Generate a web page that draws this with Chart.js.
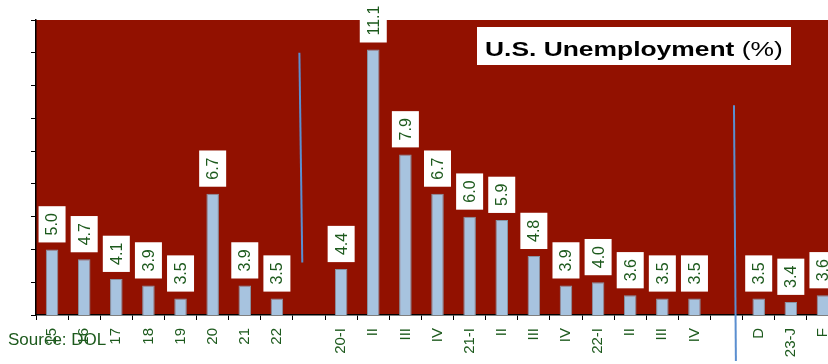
<!DOCTYPE html>
<html>
<head>
<meta charset="utf-8">
<script src="https://cdn.jsdelivr.net/npm/chart.js@4/dist/chart.umd.min.js"></script>
<style>
  html, body { margin: 0; padding: 0; background: #ffffff; overflow: hidden; }
  #wrap { width: 828px; height: 364px; overflow: hidden; }
</style>
</head>
<body>
<div id="wrap"><canvas id="unempChart" width="840" height="364"></canvas></div>
<script>
// categories (blank ones are the gaps between the yearly / quarterly / monthly blocks)
var categories = ['15', '16', '17', '18', '19', '20', '21', '22', '',
    '20-I', 'II', 'III', 'IV', '21-I', 'II', 'III', 'IV', '22-I', 'II', 'III', 'IV', '',
    'D', '23-J', 'F'];
var rates = [5.0, 4.7, 4.1, 3.9, 3.5, 6.7, 3.9, 3.5, null,
    4.4, 11.1, 7.9, 6.7, 6.0, 5.9, 4.8, 3.9, 4.0, 3.6, 3.5, 3.5, null,
    3.5, 3.4, 3.6];
// divider lines, in category index / percent units: [x top, y top, x bottom, y bottom]
var dividers = [
    [7.70, 11.0, 7.79, 4.6],
    [21.23, 9.4, 21.29, 1.6]
];

const GREEN = '#1d5a1d';
const FONT = "'Liberation Sans', Arial, sans-serif";

const backgroundPlugin = {
    id: 'plotBackground',
    beforeDraw(chart) {
        const { ctx, chartArea } = chart;
        ctx.save();
        ctx.fillStyle = '#921100';
        ctx.fillRect(chartArea.left, chartArea.top, chartArea.right - chartArea.left, chartArea.bottom - chartArea.top);
        ctx.restore();
    }
};

const extrasPlugin = {
    id: 'extras',
    afterDatasetsDraw(chart) {
        const ctx = chart.ctx;
        const xs = chart.scales.x, ys = chart.scales.y;

        // value boxes above bars
        const meta = chart.getDatasetMeta(0);
        ctx.save();
        ctx.font = '16px ' + FONT;
        meta.data.forEach((bar, i) => {
            const v = rates[i];
            if (v === null) return;
            const txt = v.toFixed(1);
            const tw = ctx.measureText(txt).width;
            const h = tw + 14;
            const w = 27;
            const bottom = bar.y - 7;
            ctx.fillStyle = '#ffffff';
            ctx.fillRect(bar.x - w / 2, bottom - h, w, h);
            ctx.save();
            ctx.translate(bar.x, bottom - h / 2);
            ctx.rotate(-Math.PI / 2);
            ctx.fillStyle = GREEN;
            ctx.textAlign = 'center';
            ctx.textBaseline = 'middle';
            ctx.fillText(txt, 0, 1);
            ctx.restore();
        });
        ctx.restore();

        // blue divider lines
        ctx.save();
        ctx.strokeStyle = '#5b8fd0';
        ctx.lineWidth = 2;
        dividers.forEach(d => {
            ctx.beginPath();
            ctx.moveTo(xs.getPixelForValue(d[0]), ys.getPixelForValue(d[1]));
            ctx.lineTo(xs.getPixelForValue(d[2]), ys.getPixelForValue(d[3]));
            ctx.stroke();
        });
        ctx.restore();

        // title box
        ctx.save();
        ctx.fillStyle = '#ffffff';
        ctx.fillRect(477, 27, 314, 38);
        ctx.translate(485, 56);
        ctx.scale(1.32, 1);
        ctx.fillStyle = '#000000';
        ctx.textBaseline = 'alphabetic';
        ctx.font = 'bold 20px ' + FONT;
        const part1 = 'U.S. Unemployment';
        ctx.fillText(part1, 0, 0);
        const w1 = ctx.measureText(part1).width;
        ctx.font = '20px ' + FONT;
        ctx.fillText(' (%)', w1, 0);
        ctx.restore();

        // source note
        ctx.save();
        ctx.fillStyle = GREEN;
        ctx.font = '17px ' + FONT;
        ctx.textBaseline = 'middle';
        ctx.fillText('Source: DOL', 8, 340);
        ctx.restore();
    }
};

new Chart('unempChart', {
    type: 'bar',
    data: {
        labels: categories,
        datasets: [{
            data: rates,
            backgroundColor: '#a7c3df',
            borderColor: '#8894a3',
            borderWidth: 1,
            barPercentage: 0.39,
            categoryPercentage: 1.0
        }]
    },
    options: {
        responsive: false,
        animation: false,
        devicePixelRatio: 1,
        layout: { padding: { top: 20, left: 0, right: 1, bottom: 0 } },
        plugins: { legend: { display: false }, tooltip: { enabled: false } },
        scales: {
            x: {
                offset: true,
                grid: { offset: true, drawOnChartArea: false, drawTicks: true, tickLength: 5, color: '#000000' },
                border: { color: '#000000', width: 1.5 },
                ticks: {
                    autoSkip: false, maxRotation: 90, minRotation: 90, padding: 8,
                    color: GREEN, font: { family: FONT, size: 15 }
                },
                afterFit: s => {
                    s.height = 49;
                    s.paddingLeft = 0;
                    s.paddingRight = 0;
                }
            },
            y: {
                min: 3, max: 12,
                grid: { drawOnChartArea: false, drawTicks: true, tickLength: 5, color: '#000000' },
                border: { color: '#000000', width: 1.5 },
                ticks: { stepSize: 1, display: false },
                afterFit: s => { s.width = 36; }
            }
        }
    },
    plugins: [backgroundPlugin, extrasPlugin]
});
</script>
</body>
</html>
